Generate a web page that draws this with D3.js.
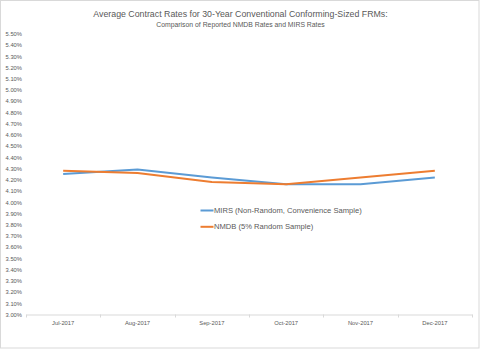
<!DOCTYPE html>
<html><head><meta charset="utf-8">
<script src="https://cdn.jsdelivr.net/npm/d3@7"></script>
<style>body{margin:0;background:#fff}svg{display:block}</style>
</head><body>
<script>
const months = ["Jul-2017","Aug-2017","Sep-2017","Oct-2017","Nov-2017","Dec-2017"];
const mirs = [4.25,4.29,4.22,4.16,4.16,4.22];
const nmdb = [4.28,4.26,4.18,4.16,4.22,4.28];
const yTicks = d3.range(0,26).map(i => +(3 + i*0.1).toFixed(2));
const seriesNames = ["MIRS (Non-Random, Convenience Sample)","NMDB (5% Random Sample)"];
const colors = ["#5b9bd5","#ed7d31"];
const titleText = "Average Contract Rates for 30-Year Conventional Conforming-Sized FRMs:";
const subtitleText = "Comparison of Reported NMDB Rates and MIRS Rates";

const W=480,H=349;
const svg=d3.select("body").append("svg").attr("width",W).attr("height",H);
const font="'Liberation Sans', Arial, sans-serif";
svg.append("rect").attr("x",0.5).attr("y",0.5).attr("width",478.5).attr("height",347.5)
  .attr("fill","#fff").attr("stroke","#d9d9d9");

const x=d3.scaleBand().domain(months).range([26,472]).padding(0);
const y=d3.scaleLinear().domain([3,5.5]).range([314.5,33.7]);

svg.append("text").attr("x",240.5).attr("y",16.6).attr("text-anchor","middle")
  .attr("font-family",font).attr("font-size",8.8).attr("fill","#595959").text(titleText);
svg.append("text").attr("x",240.5).attr("y",26.6).attr("text-anchor","middle")
  .attr("font-family",font).attr("font-size",6.85).attr("fill","#595959").text(subtitleText);

// y axis labels
const yAx=svg.append("g").attr("transform","translate(22,0)")
  .call(d3.axisLeft(y).tickValues(yTicks).tickSize(0).tickPadding(0).tickFormat(d=>d3.format(".2f")(d)+"%"));
yAx.select(".domain").remove();
yAx.selectAll("text").attr("font-family",font).attr("font-size",5.8).attr("fill","#595959");

// x axis
const xAx=svg.append("g").attr("transform","translate(0,314.5)")
  .call(d3.axisBottom(x).tickSize(0).tickPadding(6));
xAx.select(".domain").attr("stroke","#d9d9d9");
xAx.selectAll("text").attr("font-family",font).attr("font-size",5.8).attr("fill","#595959");
const bounds=months.map(m=>x(m)).concat([x.range()[1]]);
svg.append("g").selectAll("line").data(bounds).join("line")
  .attr("x1",d=>Math.round(d)+0.5).attr("x2",d=>Math.round(d)+0.5)
  .attr("y1",314.5).attr("y2",317.5).attr("stroke","#d9d9d9");

const line=d3.line().x((d,i)=>x(months[i])+x.bandwidth()/2).y(d=>y(d));
[mirs,nmdb].forEach((s,k)=>{
  svg.append("path").datum(s).attr("d",line).attr("fill","none")
    .attr("stroke",colors[k]).attr("stroke-width",2).attr("stroke-linejoin","round");
});

// legend
const leg=svg.append("g");
seriesNames.forEach((n,k)=>{
  const yy=210.5+k*16.3;
  leg.append("line").attr("x1",200.5).attr("x2",213.5).attr("y1",yy).attr("y2",yy)
    .attr("stroke",colors[k]).attr("stroke-width",2);
  leg.append("text").attr("x",214).attr("y",yy+2.6).attr("font-family",font)
    .attr("font-size",7.6).attr("fill","#595959").text(n);
});
</script>
</body></html>
